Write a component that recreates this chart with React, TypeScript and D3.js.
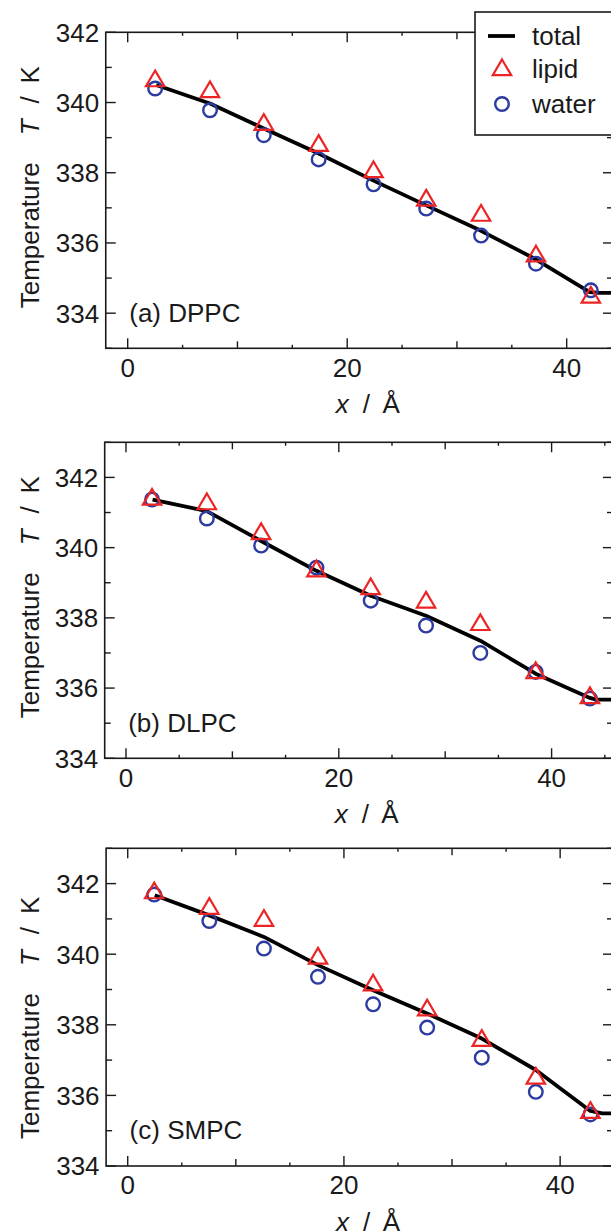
import { useRef, useEffect } from 'react';
import * as d3 from 'd3';

// slab positions (Å) and temperatures (K)
const xDPPC = [2.5, 7.5, 12.4, 17.4, 22.4, 27.2, 32.2, 37.2, 42.2];
const lipidDPPC = [340.64, 340.33, 339.4, 338.8, 338.05, 337.24, 336.81, 335.65, 334.48];
const waterDPPC = [340.4, 339.78, 339.07, 338.38, 337.67, 336.98, 336.21, 335.41, 334.65];
const totalXDPPC = [2.6, 7.5, 12.4, 17.4, 22.3, 27.2, 32.1, 37.1, 42.1, 43.0, 47];
const totalDPPC = [340.5, 339.97, 339.26, 338.55, 337.79, 337.07, 336.36, 335.55, 334.6, 334.58, 334.58];

const xDLPC = [2.45, 7.6, 12.7, 17.9, 23.0, 28.2, 33.3, 38.5, 43.6];
const lipidDLPC = [341.4, 341.27, 340.42, 339.36, 338.85, 338.47, 337.83, 336.46, 335.75];
const waterDLPC = [341.37, 340.83, 340.06, 339.43, 338.49, 337.78, 337.0, 336.46, 335.7];
const totalXDLPC = [2.5, 7.6, 12.7, 17.9, 23.0, 28.2, 33.3, 38.5, 43.6, 44.2, 48];
const totalDLPC = [341.37, 341.04, 340.19, 339.34, 338.63, 338.06, 337.35, 336.41, 335.72, 335.67, 335.67];

const xSMPC = [2.45, 7.55, 12.6, 17.6, 22.7, 27.7, 32.75, 37.75, 42.8];
const lipidSMPC = [341.76, 341.32, 340.98, 339.91, 339.15, 338.44, 337.58, 336.51, 335.54];
const waterSMPC = [341.69, 340.94, 340.16, 339.36, 338.58, 337.92, 337.07, 336.1, 335.46];
const totalXSMPC = [2.5, 7.55, 12.6, 17.6, 22.7, 27.7, 32.75, 37.75, 42.8, 43.9, 48];
const totalSMPC = [341.67, 341.1, 340.49, 339.69, 338.98, 338.32, 337.61, 336.72, 335.56, 335.49, 335.49];

const panelNames = ['(a) DPPC', '(b) DLPC', '(c) SMPC'];
const xDomains = [[-2, 44.22], [-2, 45.77], [-2, 44.89]];
const yDomains = [[333, 342], [334, 343], [334, 343]];
const xTickLabels = [0, 20, 40];
const yTickLabels = [334, 336, 338, 340, 342];
const legendLabels = ['total', 'lipid', 'water'];

const RED = '#ec2424';
const BLUE = '#2c3b9f';
const INK = '#1a1a1a';
const FONT = '"Liberation Sans", Arial, sans-serif';
const FS = 26;

const App = () => {
  const svgRef = useRef(null);

  useEffect(() => {
    const svg = d3.select(svgRef.current);
    svg.selectAll('*').remove();

    const width = 611;
    const height = 1232;
    const right = 613;

    svg.attr('width', width).attr('height', height)
      .attr('viewBox', [0, 0, width, height])
      .style('font-family', FONT);

    svg.append('rect').attr('width', width).attr('height', height).attr('fill', '#fff');

    const layout = [
      { top: 32.3, bottom: 348.3, left: 105.75, yLab: 40 },
      { top: 442.3, bottom: 758.3, left: 104.7, yLab: 40 },
      { top: 848.3, bottom: 1166, left: 106.1, yLab: 27 },
    ];

    const panels = [
      { xs: xDPPC, lipid: lipidDPPC, water: waterDPPC, tx: totalXDPPC, total: totalDPPC },
      { xs: xDLPC, lipid: lipidDLPC, water: waterDLPC, tx: totalXDLPC, total: totalDLPC },
      { xs: xSMPC, lipid: lipidSMPC, water: waterSMPC, tx: totalXSMPC, total: totalSMPC },
    ];

    const triPath = 'M0,-9.5L9.2,6.2L-9.2,6.2Z';

    panels.forEach((p, i) => {
      const L = layout[i];
      const x = d3.scaleLinear().domain(xDomains[i]).range([L.left, right]);
      const y = d3.scaleLinear().domain(yDomains[i]).range([L.bottom, L.top]);
      const g = svg.append('g');

      // frame
      g.append('rect')
        .attr('x', L.left).attr('y', L.top)
        .attr('width', right - L.left).attr('height', L.bottom - L.top)
        .attr('fill', 'none').attr('stroke', INK).attr('stroke-width', 1.6);

      // y ticks, inward on both sides
      const yt = d3.range(yDomains[i][0], yDomains[i][1] + 1);
      yt.forEach(v => {
        const len = v % 2 === 0 ? 10 : 6;
        g.append('line').attr('x1', L.left).attr('x2', L.left + len)
          .attr('y1', y(v)).attr('y2', y(v)).attr('stroke', INK).attr('stroke-width', 1.4);
        g.append('line').attr('x1', right).attr('x2', right - len)
          .attr('y1', y(v)).attr('y2', y(v)).attr('stroke', INK).attr('stroke-width', 1.4);
      });

      // x ticks, inward top and bottom
      const xt = d3.range(0, xDomains[i][1], 5);
      xt.forEach(v => {
        const len = v % 20 === 0 ? 10 : v % 10 === 0 ? 7 : 3.5;
        g.append('line').attr('x1', x(v)).attr('x2', x(v))
          .attr('y1', L.bottom).attr('y2', L.bottom - len).attr('stroke', INK).attr('stroke-width', 1.4);
        g.append('line').attr('x1', x(v)).attr('x2', x(v))
          .attr('y1', L.top).attr('y2', L.top + len).attr('stroke', INK).attr('stroke-width', 1.4);
      });

      g.selectAll('text.yl')
        .data(yTickLabels)
        .join('text')
        .attr('class', 'yl')
        .attr('x', L.left - 6.5)
        .attr('y', d => y(d))
        .attr('dy', '0.36em')
        .attr('text-anchor', 'end')
        .attr('font-size', FS)
        .attr('fill', INK)
        .text(d => d);

      g.selectAll('text.xl')
        .data(xTickLabels)
        .join('text')
        .attr('class', 'xl')
        .attr('x', d => x(d))
        .attr('y', L.bottom + 28.4)
        .attr('text-anchor', 'middle')
        .attr('font-size', FS)
        .attr('fill', INK)
        .text(d => d);

      // axis titles
      const xt2 = g.append('text')
        .attr('x', L.left + 230).attr('y', L.bottom + 65)
        .attr('font-size', FS).attr('fill', INK);
      xt2.append('tspan').attr('font-style', 'italic').text('x');
      xt2.append('tspan').attr('dx', 14).text('/');
      xt2.append('tspan').attr('dx', 12.4).text('Å');

      const yt2 = g.append('text')
        .attr('transform', `translate(39,${L.bottom - L.yLab}) rotate(-90)`)
        .attr('font-size', FS).attr('fill', INK);
      yt2.append('tspan').text('Temperature');
      yt2.append('tspan').attr('dx', 27).attr('font-style', 'italic').text('T');
      yt2.append('tspan').attr('dx', 16).text('/');
      yt2.append('tspan').attr('dx', 12.8).text('K');

      g.append('text')
        .attr('x', L.left + 23.5).attr('y', L.bottom - 26.6)
        .attr('font-size', FS).attr('fill', INK)
        .text(panelNames[i]);

      // total
      const line = d3.line().x(d => x(d[0])).y(d => y(d[1]));
      g.append('path')
        .attr('d', line(p.tx.map((v, k) => [v, p.total[k]])))
        .attr('fill', 'none').attr('stroke', '#000').attr('stroke-width', 3.8)
        .attr('stroke-linejoin', 'round');

      // water
      g.selectAll('circle.w')
        .data(p.xs.map((v, k) => [v, p.water[k]]))
        .join('circle')
        .attr('class', 'w')
        .attr('cx', d => x(d[0])).attr('cy', d => y(d[1]))
        .attr('r', 6.8)
        .attr('fill', 'none').attr('stroke', BLUE).attr('stroke-width', 2.4);

      // lipid
      g.selectAll('path.l')
        .data(p.xs.map((v, k) => [v, p.lipid[k]]))
        .join('path')
        .attr('class', 'l')
        .attr('transform', d => `translate(${x(d[0])},${y(d[1])})`)
        .attr('d', triPath)
        .attr('fill', 'none').attr('stroke', RED).attr('stroke-width', 2.2);
    });

    // legend
    const lg = svg.append('g');
    lg.append('rect')
      .attr('x', 475).attr('y', 12).attr('width', 200).attr('height', 123)
      .attr('fill', '#fff').attr('stroke', INK).attr('stroke-width', 1.6);
    const rowY = [36, 69, 104];
    lg.append('line').attr('x1', 488).attr('x2', 515).attr('y1', rowY[0]).attr('y2', rowY[0])
      .attr('stroke', '#000').attr('stroke-width', 3.8);
    lg.append('path').attr('d', triPath).attr('transform', `translate(502,${rowY[1]})`)
      .attr('fill', 'none').attr('stroke', RED).attr('stroke-width', 2.2);
    lg.append('circle').attr('cx', 502).attr('cy', rowY[2]).attr('r', 6.8)
      .attr('fill', 'none').attr('stroke', BLUE).attr('stroke-width', 2.4);
    lg.selectAll('text')
      .data(legendLabels)
      .join('text')
      .attr('x', 532)
      .attr('y', (d, k) => rowY[k])
      .attr('dy', '0.35em')
      .attr('font-size', FS)
      .attr('fill', INK)
      .text(d => d);
  }, []);

  return (
    <svg ref={svgRef} style={{ position: 'absolute', left: 0, top: 0 }}></svg>
  );
};

export default App;
